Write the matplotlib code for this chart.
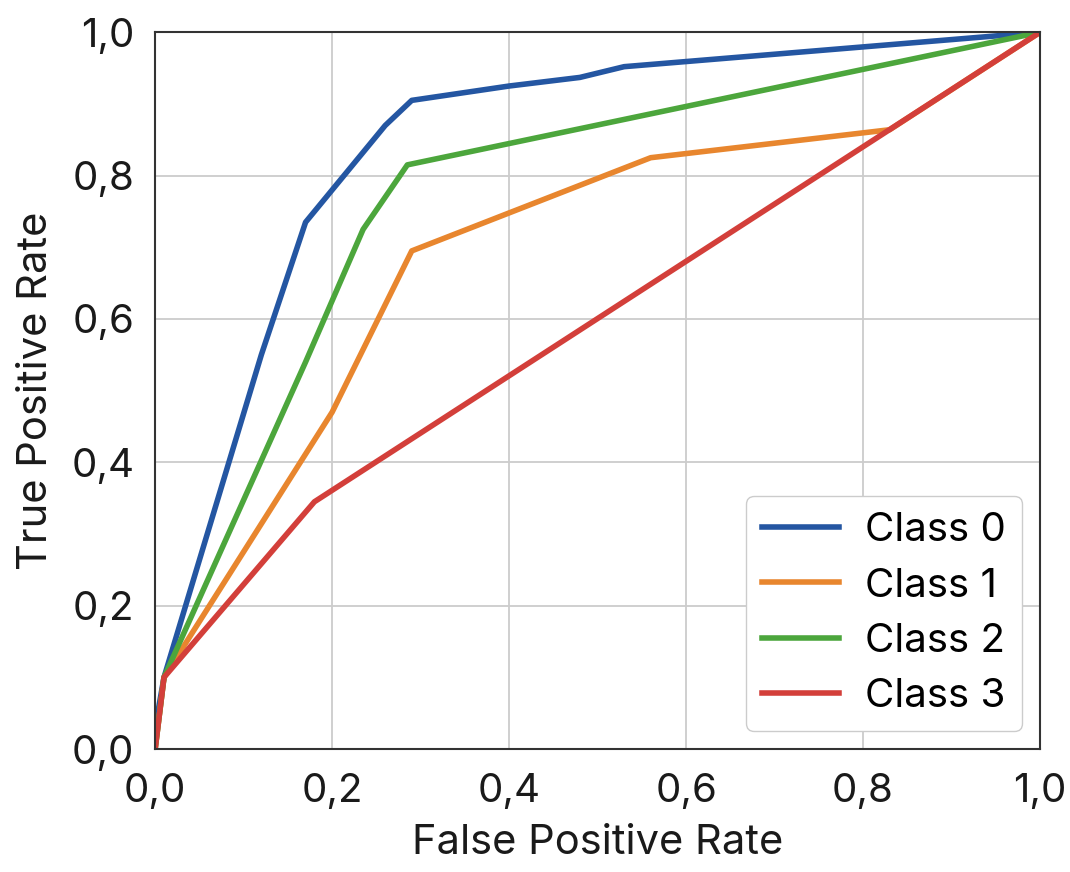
import matplotlib
matplotlib.use("Agg")
import matplotlib.pyplot as plt
from matplotlib.ticker import FuncFormatter

# ROC points
fpr_0 = [0.0, 0.0, 0.01, 0.12, 0.17, 0.26, 0.29, 0.40, 0.48, 0.53, 1.0]
tpr_0 = [0.0, 0.03, 0.10, 0.55, 0.735, 0.87, 0.905, 0.925, 0.937, 0.952, 1.0]
fpr_1 = [0.0, 0.01, 0.20, 0.29, 0.56, 0.83, 1.0]
tpr_1 = [0.0, 0.10, 0.47, 0.695, 0.825, 0.864, 1.0]
fpr_2 = [0.0, 0.01, 0.17, 0.235, 0.285, 1.0]
tpr_2 = [0.0, 0.10, 0.54, 0.725, 0.815, 1.0]
fpr_3 = [0.0, 0.01, 0.18, 1.0]
tpr_3 = [0.0, 0.10, 0.345, 1.0]

labels = ["Class 0", "Class 1", "Class 2", "Class 3"]
colors = ["#2456a2", "#e8862e", "#4ca63c", "#d33f3a"]

plt.rcParams['font.family'] = ['Inter', 'DejaVu Sans']

fig = plt.figure(figsize=(10.7, 8.72), dpi=100)
ax = fig.add_axes([0.145, 0.141, 0.827, 0.822])

curves = [(fpr_0, tpr_0), (fpr_1, tpr_1), (fpr_2, tpr_2), (fpr_3, tpr_3)]
for (x, y), lab, c in zip(curves, labels, colors):
    ax.plot(x, y, color=c, lw=4, label=lab, solid_joinstyle='round')

ax.set_xlim(0, 1)
ax.set_ylim(0, 1)
ax.set_xticks([0, 0.2, 0.4, 0.6, 0.8, 1.0])
ax.set_yticks([0, 0.2, 0.4, 0.6, 0.8, 1.0])
comma = FuncFormatter(lambda v, p: f"{v:.1f}".replace(".", ","))
ax.xaxis.set_major_formatter(comma)
ax.yaxis.set_major_formatter(comma)
ax.tick_params(labelsize=29, length=0, colors='#1a1a1a')
ax.tick_params(axis='y', pad=15)
ax.tick_params(axis='x', pad=17)
ax.grid(True, color='#cccccc', lw=1.3)
ax.set_axisbelow(True)
for s in ax.spines.values():
    s.set_color('#333333')
    s.set_linewidth(1.5)

ax.set_xlabel("False Positive Rate", fontsize=30, color='#1a1a1a', labelpad=10)
ax.set_ylabel("True Positive Rate", fontsize=30, color='#1a1a1a', labelpad=12)

leg = ax.legend(loc='lower right', fontsize=29, frameon=True, handlelength=1.9,
                borderpad=0.4, labelspacing=0.45, handletextpad=0.65,
                borderaxespad=0.45, fancybox=True, edgecolor='#cccccc', framealpha=1)

fig.savefig("out.png", dpi=100)
